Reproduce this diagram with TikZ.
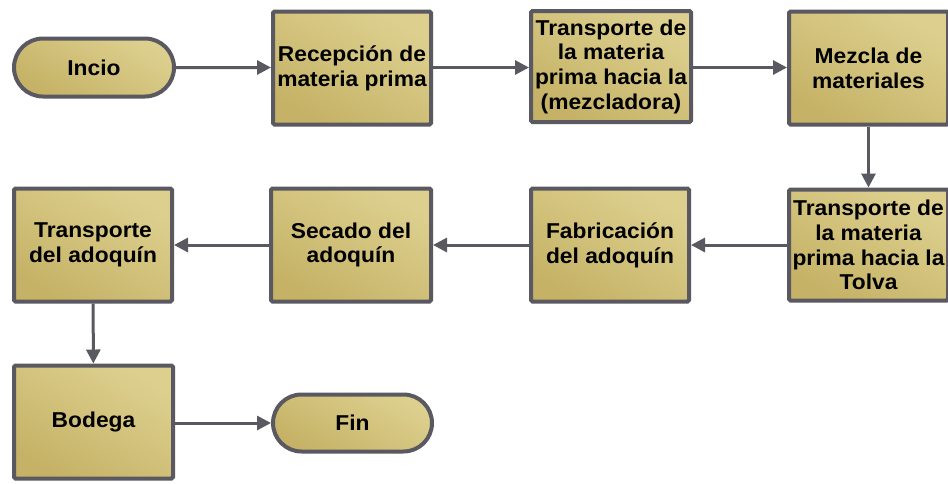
\documentclass[tikz,border=0pt]{standalone}
\usepackage{fontspec}
\setmainfont{Liberation Sans}[FakeStretch=1.06]
\usetikzlibrary{shapes.misc,arrows.meta}
\definecolor{bordc}{HTML}{5A5860}
\definecolor{goldlight}{HTML}{DDD08F}
\definecolor{golddark}{HTML}{C5B266}
\tikzset{
  x=1pt,y=-1pt,
  base/.style={draw=bordc, line width=4pt, top color=goldlight, bottom color=golddark, shading angle=-30,
    align=center, inner sep=0pt, font=\fontsize{21.5}{24.7}\selectfont\bfseries, text=black},
  box/.style={base, rectangle, rounded corners=1.5pt, minimum width=158pt, minimum height=113pt},
  term/.style={base, rounded rectangle, minimum width=160pt, minimum height=58pt},
  arr/.style={draw=bordc, line width=3pt, -{Triangle[length=14pt,width=14pt]}}
}
\begin{document}
\begin{tikzpicture}
\useasboundingbox (0,0) rectangle (948,483);
\node[term] (incio) at (94,67.5) {Incio};
\node[box] (rec) at (352,68) {Recepción de\\materia prima};
\node[box, minimum height=111pt, minimum width=160pt] (t1) at (611,66.5) {Transporte de\\la materia\\prima hacia la\\(mezcladora)};
\node[box, minimum width=159pt] (mez) at (868.5,68) {Mezcla de\\materiales};
\node[box, minimum height=111pt, minimum width=159pt] (t2) at (868.5,245) {Transporte de\\la materia\\prima hacia la\\Tolva};
\node[box] (fab) at (610,245) {Fabricación\\del adoquín};
\node[box, minimum width=160pt] (sec) at (351,245) {Secado del\\adoquín};
\node[box] (tad) at (93,245) {Transporte\\del adoquín};
\node[box, minimum width=159pt] (bod) at (93.5,422) {Bodega};
\node[term, minimum width=159pt, minimum height=57pt] (fin) at (352.5,423) {Fin};
\draw[arr] (incio) -- (rec.west |- incio);
\draw[arr] (rec.east |- incio) -- (t1.west |- incio);
\draw[arr] (t1.east |- incio) -- (mez.west |- incio);
\draw[arr] (mez) -- (t2);
\draw[arr] (t2) -- (fab);
\draw[arr] (fab) -- (sec);
\draw[arr] (sec) -- (tad);
\draw[arr] (tad) -- (bod);
\draw[arr] (bod.east |- fin) -- (fin);
\end{tikzpicture}
\end{document}
